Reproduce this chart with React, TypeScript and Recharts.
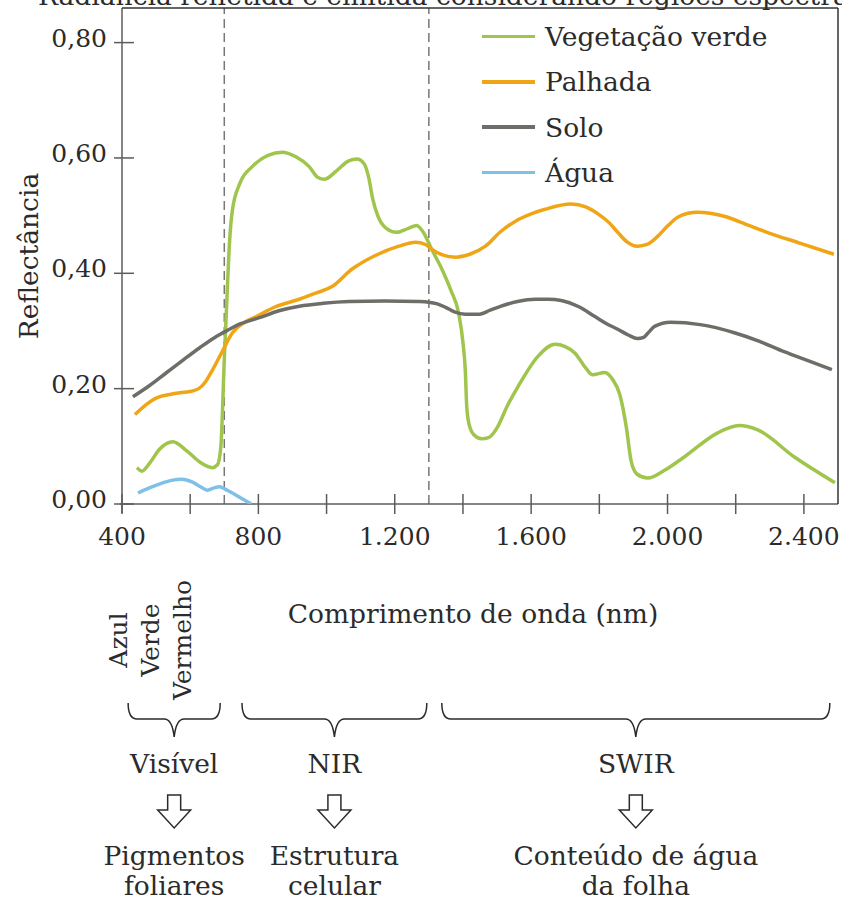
import { LineChart, Line, XAxis, YAxis, Legend, ReferenceLine, ReferenceArea } from 'recharts';

const FONT = "'DejaVu Serif', serif";
const INK = '#2b2b2b';
const AXIS = '#5c5c5c';
const FS = 26.5;

// comprimento de onda (nm) x reflectância
const vegetacaoVerde = [
  { nm: 444, r: 0.063 }, { nm: 458, r: 0.057 }, { nm: 480, r: 0.07 }, { nm: 510, r: 0.095 },
  { nm: 549, r: 0.108 }, { nm: 590, r: 0.092 }, { nm: 630, r: 0.072 }, { nm: 665, r: 0.063 },
  { nm: 680, r: 0.068 }, { nm: 690, r: 0.1 }, { nm: 700, r: 0.25 }, { nm: 708, r: 0.36 },
  { nm: 715, r: 0.45 }, { nm: 724, r: 0.51 }, { nm: 745, r: 0.555 }, { nm: 782, r: 0.585 },
  { nm: 830, r: 0.605 }, { nm: 870, r: 0.61 }, { nm: 910, r: 0.602 }, { nm: 949, r: 0.585 },
  { nm: 975, r: 0.566 }, { nm: 993, r: 0.563 }, { nm: 1030, r: 0.578 }, { nm: 1065, r: 0.595 },
  { nm: 1089, r: 0.598 }, { nm: 1110, r: 0.59 }, { nm: 1124, r: 0.565 }, { nm: 1135, r: 0.53 },
  { nm: 1150, r: 0.5 }, { nm: 1175, r: 0.478 }, { nm: 1206, r: 0.471 }, { nm: 1240, r: 0.478 },
  { nm: 1264, r: 0.483 }, { nm: 1285, r: 0.47 }, { nm: 1308, r: 0.442 }, { nm: 1340, r: 0.405 },
  { nm: 1365, r: 0.37 }, { nm: 1387, r: 0.332 }, { nm: 1400, r: 0.28 }, { nm: 1407, r: 0.23 },
  { nm: 1411, r: 0.17 }, { nm: 1418, r: 0.138 }, { nm: 1432, r: 0.12 }, { nm: 1455, r: 0.113 },
  { nm: 1475, r: 0.115 }, { nm: 1500, r: 0.132 }, { nm: 1530, r: 0.17 }, { nm: 1562, r: 0.204 },
  { nm: 1620, r: 0.256 }, { nm: 1670, r: 0.277 }, { nm: 1700, r: 0.273 }, { nm: 1728, r: 0.262 },
  { nm: 1760, r: 0.236 }, { nm: 1780, r: 0.224 }, { nm: 1816, r: 0.228 }, { nm: 1840, r: 0.215 },
  { nm: 1860, r: 0.19 }, { nm: 1880, r: 0.13 }, { nm: 1893, r: 0.075 }, { nm: 1910, r: 0.052 },
  { nm: 1942, r: 0.045 }, { nm: 1990, r: 0.058 }, { nm: 2050, r: 0.082 }, { nm: 2146, r: 0.123 },
  { nm: 2210, r: 0.136 }, { nm: 2263, r: 0.129 }, { nm: 2371, r: 0.082 }, { nm: 2491, r: 0.037 },
];

const palhada = [
  { nm: 438, r: 0.155 }, { nm: 470, r: 0.172 }, { nm: 505, r: 0.185 }, { nm: 540, r: 0.19 },
  { nm: 570, r: 0.193 }, { nm: 599, r: 0.195 }, { nm: 625, r: 0.2 }, { nm: 645, r: 0.212 },
  { nm: 666, r: 0.233 }, { nm: 692, r: 0.262 }, { nm: 724, r: 0.297 }, { nm: 760, r: 0.315 },
  { nm: 794, r: 0.325 }, { nm: 850, r: 0.342 }, { nm: 920, r: 0.355 }, { nm: 970, r: 0.366 },
  { nm: 1016, r: 0.377 }, { nm: 1074, r: 0.407 }, { nm: 1140, r: 0.43 }, { nm: 1212, r: 0.447 },
  { nm: 1261, r: 0.454 }, { nm: 1290, r: 0.45 }, { nm: 1308, r: 0.442 }, { nm: 1340, r: 0.432 },
  { nm: 1378, r: 0.428 }, { nm: 1420, r: 0.433 }, { nm: 1466, r: 0.447 }, { nm: 1510, r: 0.472 },
  { nm: 1553, r: 0.49 }, { nm: 1600, r: 0.503 }, { nm: 1641, r: 0.511 }, { nm: 1717, r: 0.52 },
  { nm: 1760, r: 0.515 }, { nm: 1796, r: 0.503 }, { nm: 1830, r: 0.487 }, { nm: 1854, r: 0.471 },
  { nm: 1880, r: 0.455 }, { nm: 1912, r: 0.447 }, { nm: 1940, r: 0.45 }, { nm: 1971, r: 0.464 },
  { nm: 2000, r: 0.482 }, { nm: 2029, r: 0.497 }, { nm: 2060, r: 0.504 }, { nm: 2088, r: 0.506 },
  { nm: 2166, r: 0.499 }, { nm: 2230, r: 0.485 }, { nm: 2292, r: 0.471 }, { nm: 2390, r: 0.452 },
  { nm: 2488, r: 0.433 },
];

const solo = [
  { nm: 432, r: 0.186 }, { nm: 480, r: 0.205 }, { nm: 531, r: 0.228 }, { nm: 580, r: 0.25 },
  { nm: 628, r: 0.271 }, { nm: 670, r: 0.288 }, { nm: 709, r: 0.301 }, { nm: 750, r: 0.313 },
  { nm: 803, r: 0.323 }, { nm: 860, r: 0.335 }, { nm: 920, r: 0.343 }, { nm: 990, r: 0.348 },
  { nm: 1066, r: 0.351 }, { nm: 1170, r: 0.352 }, { nm: 1270, r: 0.351 }, { nm: 1299, r: 0.35 },
  { nm: 1325, r: 0.347 }, { nm: 1349, r: 0.341 }, { nm: 1375, r: 0.333 }, { nm: 1407, r: 0.329 },
  { nm: 1445, r: 0.329 }, { nm: 1480, r: 0.336 }, { nm: 1512, r: 0.343 }, { nm: 1560, r: 0.351 },
  { nm: 1612, r: 0.355 }, { nm: 1650, r: 0.355 }, { nm: 1688, r: 0.353 }, { nm: 1740, r: 0.342 },
  { nm: 1787, r: 0.325 }, { nm: 1820, r: 0.313 }, { nm: 1854, r: 0.303 }, { nm: 1885, r: 0.293 },
  { nm: 1912, r: 0.287 }, { nm: 1930, r: 0.289 }, { nm: 1945, r: 0.298 }, { nm: 1962, r: 0.308 },
  { nm: 2009, r: 0.315 }, { nm: 2096, r: 0.311 }, { nm: 2196, r: 0.297 }, { nm: 2270, r: 0.282 },
  { nm: 2342, r: 0.264 }, { nm: 2410, r: 0.249 }, { nm: 2482, r: 0.233 },
];

const agua = [
  { nm: 447, r: 0.019 }, { nm: 480, r: 0.028 }, { nm: 511, r: 0.035 }, { nm: 545, r: 0.041 },
  { nm: 575, r: 0.043 }, { nm: 607, r: 0.038 }, { nm: 630, r: 0.03 }, { nm: 651, r: 0.024 },
  { nm: 670, r: 0.028 }, { nm: 686, r: 0.03 }, { nm: 705, r: 0.025 }, { nm: 724, r: 0.019 },
  { nm: 750, r: 0.01 }, { nm: 779, r: 0 },
];

const xTicks = [400, 600, 800, 1000, 1200, 1400, 1600, 1800, 2000, 2200, 2400];
const yTicks = [0, 0.2, 0.4, 0.6, 0.8];
const divisorias = [700, 1300];

const faixas = ['Visível', 'NIR', 'SWIR'];
const faixaInicio = [418, 752, 1338];
const faixaFim = [688, 1294, 2476];
const faixaEfeito = [['Pigmentos', 'foliares'], ['Estrutura', 'celular'], ['Conteúdo de água', 'da folha']];
const coresVisiveis = ['Azul', 'Verde', 'Vermelho'];

const series = [
  { name: 'Vegetação verde', data: vegetacaoVerde, color: '#a0c54c' },
  { name: 'Palhada', data: palhada, color: '#f0a514' },
  { name: 'Solo', data: solo, color: '#6e6d67' },
  { name: 'Água', data: agua, color: '#7fc0e6' },
];

const fmtNm = (v: number) =>
  v >= 1000 ? `${Math.floor(v / 1000)}.${String(v % 1000).padStart(3, '0')}` : String(v);

const txt = { fontFamily: FONT, fill: INK };

function XTick({ x, y, payload }: any) {
  const v = payload.value;
  return (
    <g>
      <line x1={x} x2={x} y1={y - 10} y2={y + 10} stroke={AXIS} strokeWidth={1.5} />
      {v % 400 === 0 && (
        <text x={x} y={y + 41} textAnchor="middle" fontSize={25} {...txt}>{fmtNm(v)}</text>
      )}
    </g>
  );
}

function YTick({ x, y, payload }: any) {
  return (
    <g>
      <line x1={x - 8} x2={x + 12} y1={y} y2={y} stroke={AXIS} strokeWidth={1.5} />
      <text x={x - 15} y={y + 4} textAnchor="end" fontSize={25} {...txt}>
        {payload.value.toFixed(2).replace('.', ',')}
      </text>
    </g>
  );
}

function Faixa({ x, y, width, height, i }: any) {
  const x1 = x;
  const x2 = x + width;
  const cx = x + width / 2;
  const top = y + height + 199;
  const mid = top + 16;
  const bot = top + 34;
  const d = `M${x1},${top} Q${x1},${mid} ${x1 + 9},${mid} L${cx - 10},${mid} Q${cx - 2},${mid} ${cx},${bot}
    Q${cx + 2},${mid} ${cx + 10},${mid} L${x2 - 9},${mid} Q${x2},${mid} ${x2},${top}`;
  const ay = bot + 58;
  const seta = `M${cx - 6.5},${ay} L${cx + 6.5},${ay} L${cx + 6.5},${ay + 15} L${cx + 16.5},${ay + 15}
    L${cx},${ay + 33} L${cx - 16.5},${ay + 15} L${cx - 6.5},${ay + 15} Z`;
  return (
    <g>
      <path d={d} fill="none" stroke={INK} strokeWidth={1.5} />
      <text x={cx} y={bot + 36} textAnchor="middle" fontSize={FS} {...txt}>{faixas[i]}</text>
      <path d={seta} fill="#fff" stroke={INK} strokeWidth={1.5} />
      {faixaEfeito[i].map((s, k) => (
        <text key={s} x={cx} y={bot + 128 + k * 30} textAnchor="middle" fontSize={FS} {...txt}>{s}</text>
      ))}
      {i === 0 &&
        coresVisiveis.map((c, k) => (
          <text key={c} x={0} y={0} textAnchor="middle" fontSize={25} {...txt}
            transform={`translate(${x1 - 1 + k * 32},${top - 63}) rotate(-90)`}>{c}</text>
        ))}
    </g>
  );
}

// legenda na ordem da figura (a do recharts vem ordenada por nome)
const renderLegend = () => (
  <div style={{ fontFamily: FONT, fontSize: FS, color: INK }}>
    {series.map((s) => (
      <div key={s.name} style={{ display: 'flex', alignItems: 'center', height: 45.3 }}>
        <span style={{ width: 53, height: 3.5, background: s.color, marginRight: 10, display: 'inline-block' }} />
        <span>{s.name}</span>
      </div>
    ))}
  </div>
);

export default function App() {
  return (
    <div style={{ position: 'absolute', left: 0, top: 0, width: 842, height: 900, overflow: 'hidden', background: '#fff' }}>
      <div style={{ position: 'absolute', left: 38, top: -19, fontFamily: FONT, fontSize: FS, color: INK, whiteSpace: 'nowrap', lineHeight: '30px' }}>
        Radiância refletida e emitida considerando regiões espectrais distintas
      </div>
      <LineChart width={842} height={900} margin={{ top: 8, right: 4, bottom: 366, left: 62 }}>
        <XAxis
          type="number"
          dataKey="nm"
          domain={[400, 2500]}
          ticks={xTicks}
          interval={0}
          axisLine={false}
          tickLine={false}
          tickSize={0}
          tickMargin={0}
          tick={<XTick />}
          allowDataOverflow
          label={{
            content: ({ viewBox }: any) => (
              <text x={viewBox.x + viewBox.width / 2 - 7} y={viewBox.y + 119} textAnchor="middle" fontSize={FS} {...txt}>
                Comprimento de onda (nm)
              </text>
            ),
          }}
        />
        <YAxis
          type="number"
          domain={[0, 0.86]}
          ticks={yTicks}
          interval={0}
          width={60}
          axisLine={false}
          tickLine={false}
          tickSize={0}
          tickMargin={0}
          tick={<YTick />}
          allowDataOverflow
          label={{
            content: ({ viewBox }: any) => (
              <text x={0} y={0} textAnchor="middle" fontSize={FS} {...txt}
                transform={`translate(38,${viewBox.y + viewBox.height / 2}) rotate(-90)`}>
                Reflectância
              </text>
            ),
          }}
        />
        {divisorias.map((d) => (
          <ReferenceLine key={d} x={d} stroke="#777" strokeWidth={1.5} strokeDasharray="9 5" />
        ))}
        <ReferenceLine segment={[{ x: 400, y: -0.016 }, { x: 400, y: 0.86 }]} ifOverflow="visible" stroke={AXIS} strokeWidth={1.5} />
        <ReferenceLine segment={[{ x: 394, y: 0 }, { x: 2500, y: 0 }]} ifOverflow="visible" stroke={AXIS} strokeWidth={1.5} />
        <ReferenceLine segment={[{ x: 400, y: 0.86 }, { x: 2500, y: 0.86 }]} ifOverflow="visible" stroke="#333" strokeWidth={1.5} />
        <ReferenceLine segment={[{ x: 2500, y: 0 }, { x: 2500, y: 0.86 }]} ifOverflow="visible" stroke="#333" strokeWidth={1.5} />
        {faixas.map((f, i) => (
          <ReferenceArea
            key={f}
            x1={faixaInicio[i]}
            x2={faixaFim[i]}
            ifOverflow="visible"
            shape={(p: any) => <Faixa {...p} i={i} />}
          />
        ))}
        {series.map((s) => (
          <Line
            key={s.name}
            name={s.name}
            data={s.data}
            dataKey="r"
            type="monotone"
            stroke={s.color}
            strokeWidth={3.5}
            dot={false}
            activeDot={false}
            isAnimationActive={false}
          />
        ))}
        <Legend
          layout="vertical"
          verticalAlign="middle"
          align="center"
          content={renderLegend}
          wrapperStyle={{ top: 14, left: 482, width: 340 }}
        />
      </LineChart>
    </div>
  );
}
